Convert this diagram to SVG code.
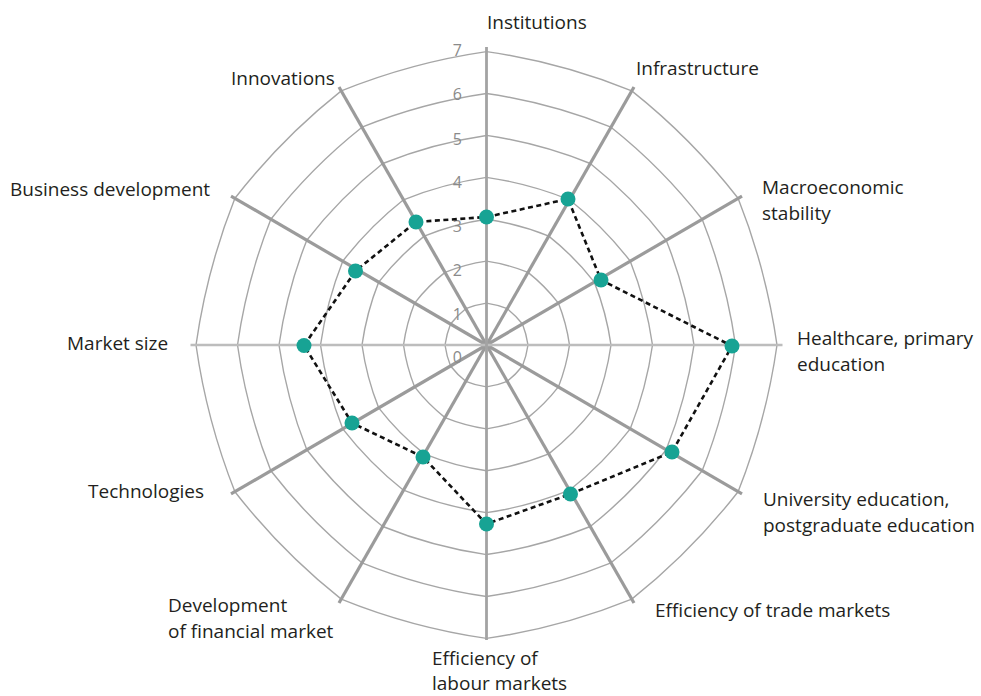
<svg xmlns="http://www.w3.org/2000/svg" xmlns:xlink="http://www.w3.org/1999/xlink" width="981" height="696" viewBox="0 0 981 696">
<style>
.lbl{font-family:"Open Sans","Noto Sans","Liberation Sans",sans-serif;font-size:19px;fill:#231f20}
.tick{font-family:"Open Sans","Noto Sans","Liberation Sans",sans-serif;font-size:16px;fill:#8a8a8a;text-anchor:end}
.grid{fill:none;stroke:#a6a6a6;stroke-width:1.4}
.spk{stroke:#9b9b9b;stroke-width:3.2}
.dot{fill:#17a394}
</style>
<defs>
<path id="seg" class="grid" d="M0,-41.5 Q10.71,-39.96 20.75,-35.94 M0,-83 Q21.41,-79.93 41.5,-71.88 M0,-124.5 Q32.12,-119.89 62.25,-107.82 M0,-166 Q42.83,-159.86 83,-143.76 M0,-207.5 Q53.54,-199.82 103.75,-179.7 M0,-249 Q64.24,-239.79 124.5,-215.64 M0,-290.5 Q74.95,-279.75 145.25,-251.58"/>
</defs>
<g id="web" transform="translate(486.5,345) scale(1,1.01)">
<use xlink:href="#seg" transform="rotate(0)"/>
<use xlink:href="#seg" transform="rotate(30)"/>
<use xlink:href="#seg" transform="rotate(60)"/>
<use xlink:href="#seg" transform="rotate(90)"/>
<use xlink:href="#seg" transform="rotate(120)"/>
<use xlink:href="#seg" transform="rotate(150)"/>
<use xlink:href="#seg" transform="rotate(180)"/>
<use xlink:href="#seg" transform="rotate(210)"/>
<use xlink:href="#seg" transform="rotate(240)"/>
<use xlink:href="#seg" transform="rotate(270)"/>
<use xlink:href="#seg" transform="rotate(300)"/>
<use xlink:href="#seg" transform="rotate(330)"/>
<g id="spokes">
<line class="spk" x1="0" y1="0" x2="147.5" y2="-255.5"/>
<line class="spk" x1="0" y1="0" x2="255.5" y2="-147.5"/>
<line class="spk" x1="0" y1="0" x2="255.5" y2="147.5"/>
<line class="spk" x1="0" y1="0" x2="147.5" y2="255.5"/>
<line class="spk" x1="0" y1="0" x2="-147.5" y2="255.5"/>
<line class="spk" x1="0" y1="0" x2="-255.5" y2="147.5"/>
<line class="spk" x1="0" y1="0" x2="-255.5" y2="-147.5"/>
<line class="spk" x1="0" y1="0" x2="-147.5" y2="-255.5"/>
<line x1="-296" y1="0" x2="296" y2="0" stroke="#bdbdbd" stroke-width="2.4"/>
<line x1="0" y1="-295" x2="0" y2="292" stroke="#a3a3a3" stroke-width="2.8"/>
</g>
</g>
<g id="ticks">
<text class="tick" x="462" y="56">7</text>
<text class="tick" x="462" y="100">6</text>
<text class="tick" x="462" y="145">5</text>
<text class="tick" x="462" y="188">4</text>
<text class="tick" x="462" y="232">3</text>
<text class="tick" x="462" y="276">2</text>
<text class="tick" x="462" y="320">1</text>
<text class="tick" x="462" y="363">0</text>
</g>
<g id="connectors">
<polygon points="486.5,217 568,199 601,280 732,346 672,452 570.5,494 486.5,524 423,457 352,423 304,345.5 355.5,271 416,222" fill="none" stroke="#111" stroke-width="2.6" stroke-dasharray="5 3.5"/>
</g>
<g id="points">
<circle class="dot" cx="486.5" cy="217" r="7.5"/>
<circle class="dot" cx="568" cy="199" r="7.5"/>
<circle class="dot" cx="601" cy="280" r="7.5"/>
<circle class="dot" cx="732" cy="346" r="7.5"/>
<circle class="dot" cx="672" cy="452" r="7.5"/>
<circle class="dot" cx="570.5" cy="494" r="7.5"/>
<circle class="dot" cx="486.5" cy="524" r="7.5"/>
<circle class="dot" cx="423" cy="457" r="7.5"/>
<circle class="dot" cx="352" cy="423" r="7.5"/>
<circle class="dot" cx="304" cy="345.5" r="7.5"/>
<circle class="dot" cx="355.5" cy="271" r="7.5"/>
<circle class="dot" cx="416" cy="222" r="7.5"/>
</g>
<g id="n-institutions"><text class="lbl" x="487" y="29">Institutions</text></g>
<g id="n-infrastructure"><text class="lbl" x="636" y="75">Infrastructure</text></g>
<g id="n-macro"><text class="lbl" x="762" y="194">Macroeconomic</text><text class="lbl" x="762" y="220">stability</text></g>
<g id="n-health"><text class="lbl" x="797" y="345">Healthcare, primary</text><text class="lbl" x="797" y="371">education</text></g>
<g id="n-univ"><text class="lbl" x="763" y="506">University education,</text><text class="lbl" x="763" y="532">postgraduate education</text></g>
<g id="n-trade"><text class="lbl" x="655" y="617">Efficiency of trade markets</text></g>
<g id="n-labour"><text class="lbl" x="432" y="665">Efficiency of</text><text class="lbl" x="432" y="690">labour markets</text></g>
<g id="n-fin"><text class="lbl" x="168" y="612">Development</text><text class="lbl" x="168" y="638">of financial market</text></g>
<g id="n-tech"><text class="lbl" x="88" y="498">Technologies</text></g>
<g id="n-market"><text class="lbl" x="67" y="350">Market size</text></g>
<g id="n-business"><text class="lbl" x="10" y="196">Business development</text></g>
<g id="n-innov"><text class="lbl" x="231" y="85">Innovations</text></g>
</svg>
